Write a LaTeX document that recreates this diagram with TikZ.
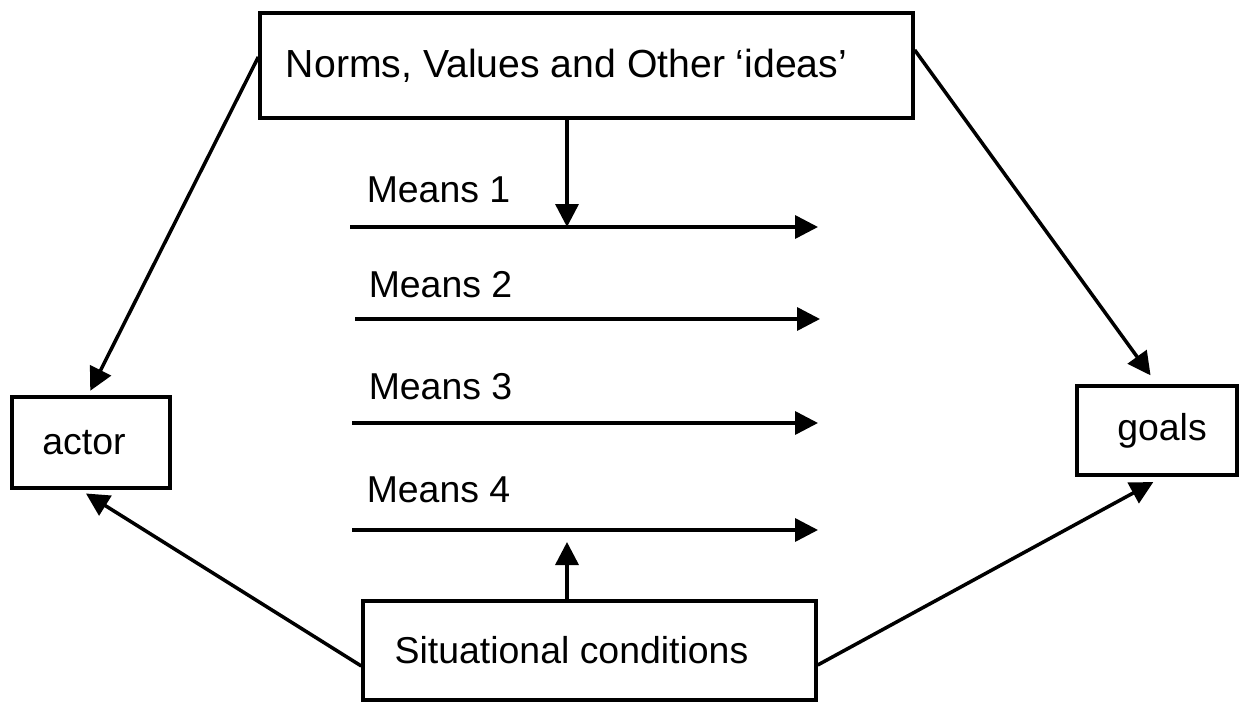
\documentclass[tikz,border=0pt]{standalone}
\usepackage{fontspec}
\setmainfont{Liberation Sans}
\usetikzlibrary{arrows.meta}

\def\boxFont{\fontsize{21.3pt}{25pt}\selectfont}
\def\topFont{\fontsize{22.3pt}{26pt}\selectfont}
\def\meansCoords{\coordinate (m1a) at (350,227);\coordinate (m1b) at (818,227);
	\coordinate (m2a) at (355,319);\coordinate (m2b) at (820,319);
	\coordinate (m3a) at (352,423);\coordinate (m3b) at (818,423);
	\coordinate (m4a) at (352,530);\coordinate (m4b) at (818,530);}

\begin{document}
\begin{tikzpicture}[x=0.02cm, y=-0.02cm, line width=2pt,
		box/.style={draw, inner sep=0pt, font=\boxFont},
		meanslabel/.style={anchor=base west, inner sep=0pt, font=\boxFont},
		link/.style={-{Triangle[length=0.46cm,width=0.46cm]}}]
		\useasboundingbox (0,0) rectangle (1239,702);
		
		% boxes
		\node[box, font=\topFont, minimum width=13.06cm, minimum height=2.1cm] (norms) at (586.5,65.5) {\hspace*{-0.8cm}Norms, Values and Other ‘ideas’};
		\node[box, minimum width=3.16cm, minimum height=1.82cm] (actor) at (91,442.5) {\hspace*{-0.28cm}actor};
		\node[box, minimum width=3.2cm, minimum height=1.78cm] (goals) at (1157,430.5) {\hspace*{0.2cm}goals};
		\node[box, minimum width=9.06cm, minimum height=1.98cm] (sit) at (589.5,650.5) {\hspace*{-0.72cm}Situational conditions};
		
		% means
		\meansCoords
		\draw[link] (m1a) -- (m1b);
		\draw[link] (m2a) -- (m2b);
		\draw[link] (m3a) -- (m3b);
		\draw[link] (m4a) -- (m4b);
		\node[meanslabel] (m1lab) at (365,203) {Means 1};
		\node[meanslabel] (m2lab) at (367,297) {Means 2};
		\node[meanslabel] (m3lab) at (367,399) {Means 3};
		\node[meanslabel] (m4lab) at (365,502) {Means 4};
		
		% into the means
		\coordinate (m1join) at (567,227);
		\coordinate (m4join) at (567,542);
		\draw[link] (norms.south -| m1join) -- (m1join);
		\draw[link] (sit.north -| m4join) -- (m4join);
		
		% out to actor and goals
		\draw[link, shorten >=0.1cm] ([yshift=0.17cm]norms.west) -- ([xshift=-0.06cm]actor.north);
		\draw[link, shorten >=0.22cm] ([yshift=0.31cm]norms.east) -- (goals.north);
		\draw[link, shorten >=0.14cm] ([yshift=-0.31cm]sit.west) -- ([xshift=-0.22cm]actor.south);
		\draw[link, shorten >=0.22cm] ([yshift=-0.29cm]sit.east) -- ([xshift=0.12cm]goals.south);
\end{tikzpicture}
\end{document}
